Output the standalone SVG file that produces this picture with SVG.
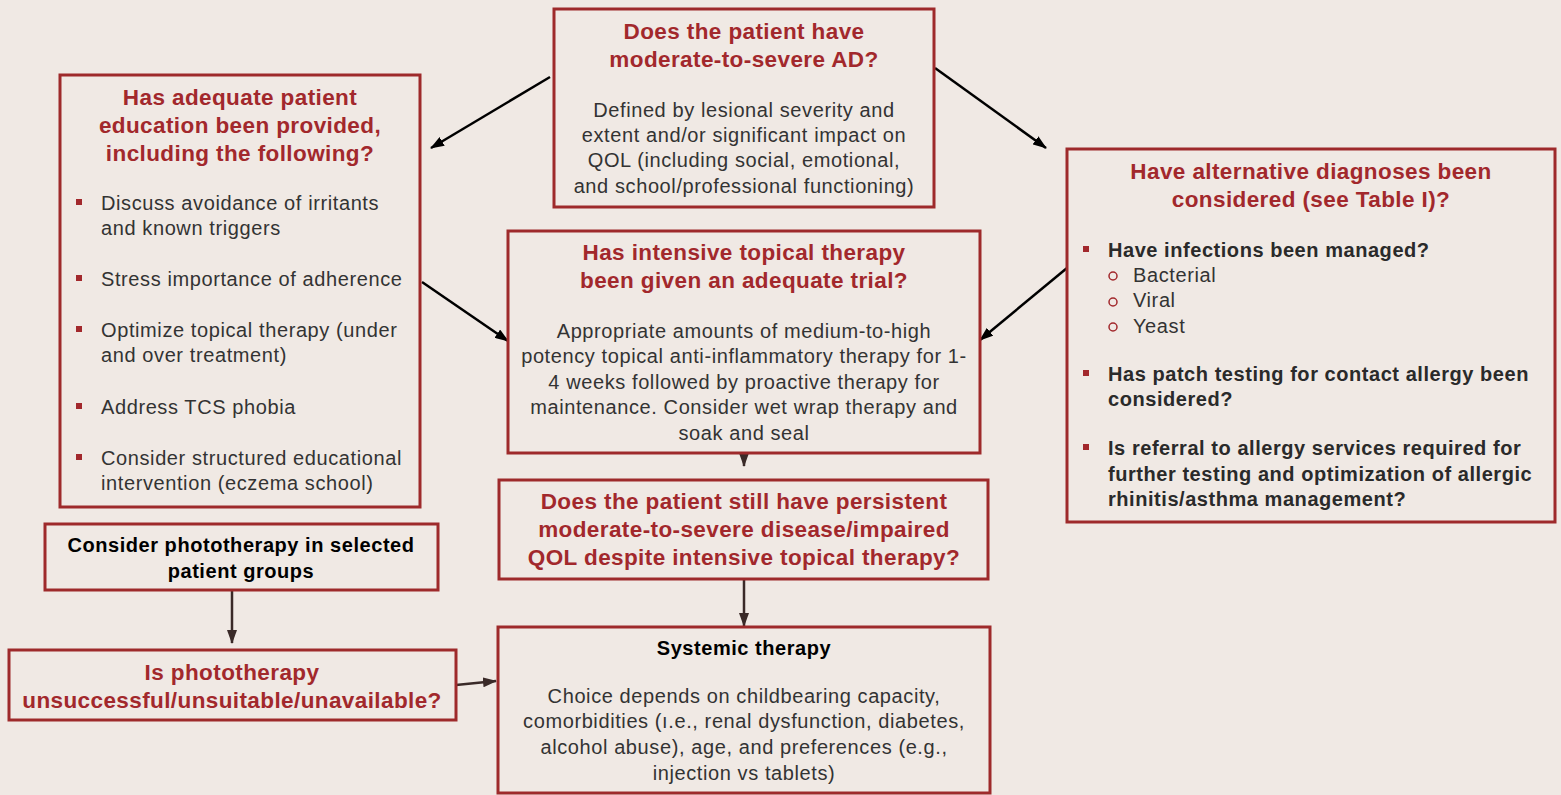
<svg xmlns="http://www.w3.org/2000/svg" width="1561" height="795" viewBox="0 0 1561 795">
<defs>
<style>
.box{fill:#F0E9E4;stroke:#9E2A2B;stroke-width:3}
.t{font-family:"Liberation Sans",Arial,sans-serif;font-weight:bold;font-size:22.5px;fill:#A2282C;text-anchor:middle;letter-spacing:0.4px}
.b{font-family:"Liberation Sans",Arial,sans-serif;font-size:20px;fill:#333333;letter-spacing:0.6px}
.c{text-anchor:middle}
.bb{font-family:"Liberation Sans",Arial,sans-serif;font-weight:bold;font-size:20px;fill:#2a2a2a;letter-spacing:0.55px}
.sq{fill:#A2282C}
.ci{fill:none;stroke:#A2282C;stroke-width:1.5}
.k{stroke:#000;stroke-width:2.5;fill:none}
.d{stroke:#3a2a28;stroke-width:2.5;fill:none}
</style>
<marker id="ak" viewBox="0 0 14 10" refX="13" refY="5" markerWidth="14" markerHeight="10" markerUnits="userSpaceOnUse" orient="auto"><path d="M0,0 L14,5 L0,10 Z" fill="#000"/></marker>
<marker id="ad" viewBox="0 0 14 10" refX="13" refY="5" markerWidth="14" markerHeight="10" markerUnits="userSpaceOnUse" orient="auto"><path d="M0,0 L14,5 L0,10 Z" fill="#3a2a28"/></marker>
</defs>
<rect width="1561" height="795" fill="#F0E9E4"/>

<g id="connectors">
<line class="k" x1="550" y1="77" x2="431" y2="148" marker-end="url(#ak)"/>
<line class="k" x1="935" y1="68" x2="1046" y2="148" marker-end="url(#ak)"/>
<line class="k" x1="422" y1="282" x2="508" y2="341" marker-end="url(#ak)"/>
<line class="k" x1="1067" y1="268" x2="980" y2="340" marker-end="url(#ak)"/>
<line class="d" x1="744" y1="454" x2="744" y2="466" marker-end="url(#ad)"/>
<line class="d" x1="744" y1="579" x2="744" y2="626" marker-end="url(#ad)"/>
<line class="d" x1="232" y1="590" x2="232" y2="643" marker-end="url(#ad)"/>
<line class="d" x1="456" y1="685" x2="496" y2="681" marker-end="url(#ad)"/>
</g>

<g id="node-moderate-severe">
<rect class="box" x="554" y="9" width="380" height="198"/>
<text class="t" x="744" y="39">Does the patient have</text>
<text class="t" x="744" y="67">moderate-to-severe AD?</text>
<text class="b c" x="744" y="117">Defined by lesional severity and</text>
<text class="b c" x="744" y="142">extent and/or significant impact on</text>
<text class="b c" x="744" y="167">QOL (including social, emotional,</text>
<text class="b c" x="744" y="193">and school/professional functioning)</text>
</g>

<g id="node-education">
<rect class="box" x="60" y="75" width="360" height="432"/>
<text class="t" x="240" y="105">Has adequate patient</text>
<text class="t" x="240" y="133">education been provided,</text>
<text class="t" x="240" y="161">including the following?</text>
<rect class="sq" x="76" y="199" width="6" height="6"/>
<text class="b" x="101" y="210">Discuss avoidance of irritants</text>
<text class="b" x="101" y="235">and known triggers</text>
<rect class="sq" x="76" y="275" width="6" height="6"/>
<text class="b" x="101" y="286">Stress importance of adherence</text>
<rect class="sq" x="76" y="326" width="6" height="6"/>
<text class="b" x="101" y="337">Optimize topical therapy (under</text>
<text class="b" x="101" y="362">and over treatment)</text>
<rect class="sq" x="76" y="403" width="6" height="6"/>
<text class="b" x="101" y="414">Address TCS phobia</text>
<rect class="sq" x="76" y="454" width="6" height="6"/>
<text class="b" x="101" y="465">Consider structured educational</text>
<text class="b" x="101" y="490">intervention (eczema school)</text>
</g>

<g id="node-alternative">
<rect class="box" x="1067" y="149" width="488" height="373"/>
<text class="t" x="1311" y="179">Have alternative diagnoses been</text>
<text class="t" x="1311" y="207">considered (see Table I)?</text>
<rect class="sq" x="1083" y="246" width="6" height="6"/>
<text class="bb" x="1108" y="257">Have infections been managed?</text>
<circle class="ci" cx="1113" cy="276" r="4"/>
<text class="b" x="1133" y="282">Bacterial</text>
<circle class="ci" cx="1113" cy="302" r="4"/>
<text class="b" x="1133" y="307">Viral</text>
<circle class="ci" cx="1113" cy="327" r="4"/>
<text class="b" x="1133" y="333">Yeast</text>
<rect class="sq" x="1083" y="370" width="6" height="6"/>
<text class="bb" x="1108" y="381">Has patch testing for contact allergy been</text>
<text class="bb" x="1108" y="406">considered?</text>
<rect class="sq" x="1083" y="444" width="6" height="6"/>
<text class="bb" x="1108" y="455">Is referral to allergy services required for</text>
<text class="bb" x="1108" y="481">further testing and optimization of allergic</text>
<text class="bb" x="1108" y="506">rhinitis/asthma management?</text>
</g>

<g id="node-topical">
<rect class="box" x="508" y="231" width="472" height="222"/>
<text class="t" x="744" y="260">Has intensive topical therapy</text>
<text class="t" x="744" y="288">been given an adequate trial?</text>
<text class="b c" x="744" y="338">Appropriate amounts of medium-to-high</text>
<text class="b c" x="744" y="363">potency topical anti-inflammatory therapy for 1-</text>
<text class="b c" x="744" y="389">4 weeks followed by proactive therapy for</text>
<text class="b c" x="744" y="414">maintenance. Consider wet wrap therapy and</text>
<text class="b c" x="744" y="440">soak and seal</text>
</g>

<g id="node-persistent">
<rect class="box" x="499" y="480" width="489" height="99"/>
<text class="t" x="744" y="509">Does the patient still have persistent</text>
<text class="t" x="744" y="537">moderate-to-severe disease/impaired</text>
<text class="t" x="744" y="565">QOL despite intensive topical therapy?</text>
</g>

<g id="node-systemic">
<rect class="box" x="498" y="627" width="492" height="166"/>
<text class="bb c" x="744" y="655" style="fill:#000">Systemic therapy</text>
<text class="b c" x="744" y="703">Choice depends on childbearing capacity,</text>
<text class="b c" x="744" y="728">comorbidities (ı.e., renal dysfunction, diabetes,</text>
<text class="b c" x="744" y="754">alcohol abuse), age, and preferences (e.g.,</text>
<text class="b c" x="744" y="780">injection vs tablets)</text>
</g>

<g id="node-consider-phototherapy">
<rect class="box" x="45" y="524" width="393" height="66"/>
<text class="bb c" x="241" y="552" style="fill:#000">Consider phototherapy in selected</text>
<text class="bb c" x="241" y="578" style="fill:#000">patient groups</text>
</g>

<g id="node-phototherapy-unsuccessful">
<rect class="box" x="9" y="650" width="447" height="70"/>
<text class="t" x="232" y="680">Is phototherapy</text>
<text class="t" x="232" y="708">unsuccessful/unsuitable/unavailable?</text>
</g>
</svg>
